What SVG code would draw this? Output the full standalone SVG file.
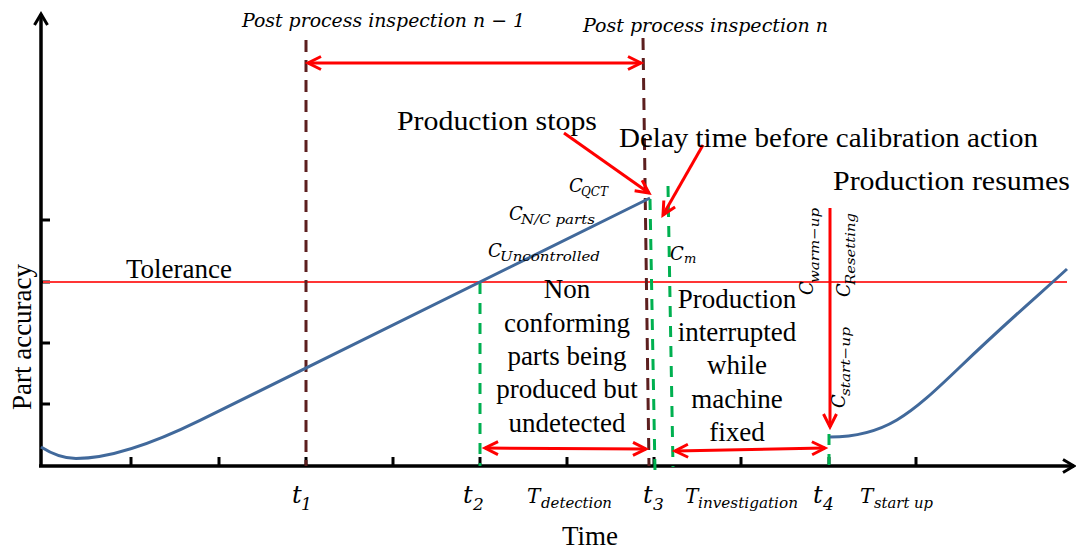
<svg xmlns="http://www.w3.org/2000/svg" width="1076" height="549" viewBox="0 0 1076 549">
<defs>
<marker id="ar" markerUnits="userSpaceOnUse" markerWidth="20" markerHeight="20" orient="auto-start-reverse" overflow="visible" refX="0" refY="0">
<path d="M-13,-6.5 L0,0 L-13,6.5" fill="none" stroke="#FF0000" stroke-width="3"/>
</marker>
<marker id="ak" markerUnits="userSpaceOnUse" markerWidth="20" markerHeight="20" orient="auto" overflow="visible" refX="0" refY="0">
<path d="M-11,-6.5 L0,0 L-11,6.5" fill="none" stroke="#000" stroke-width="3"/>
</marker>
<style>
.ax{stroke:#000;stroke-width:3.5;fill:none}
.tk{stroke:#000;stroke-width:3}
.br{stroke:#5C1F1F;stroke-width:3;stroke-dasharray:12 8;fill:none}
.gr{stroke:#00B050;stroke-width:3;stroke-dasharray:11 9;fill:none}
.rd{stroke:#FF0000;stroke-width:3;fill:none}
.cv{stroke:#41699B;stroke-width:3;fill:none}
.tol{stroke:#FF3535;stroke-width:2}
.s{font-family:"Liberation Serif","Times New Roman",serif;font-size:27px;fill:#000}
.m{font-family:"DejaVu Serif","Liberation Serif",serif;font-style:italic;fill:#000}
</style>
</defs>
<rect width="1076" height="549" fill="#fff"/>

<g id="axes">
<path class="ax" d="M41,467 L41,14" marker-end="url(#ak)"/>
<path class="ax" d="M39,466 L1074,466" marker-end="url(#ak)"/>
<g class="tk">
<line x1="41" y1="220" x2="50" y2="220"/>
<line x1="41" y1="282" x2="50" y2="282"/>
<line x1="41" y1="343" x2="50" y2="343"/>
<line x1="41" y1="404" x2="50" y2="404"/>
<line x1="131" y1="466" x2="131" y2="457"/>
<line x1="219" y1="466" x2="219" y2="457"/>
<line x1="306" y1="466" x2="306" y2="457"/>
<line x1="393" y1="466" x2="393" y2="457"/>
<line x1="480" y1="466" x2="480" y2="457"/>
<line x1="567" y1="466" x2="567" y2="457"/>
<line x1="654" y1="466" x2="654" y2="457"/>
<line x1="741" y1="466" x2="741" y2="457"/>
<line x1="829" y1="466" x2="829" y2="457"/>
<line x1="916" y1="466" x2="916" y2="457"/>
</g>
</g>

<g id="tolerance-line">
<line class="tol" x1="43" y1="282" x2="1067" y2="282"/>
</g>

<g id="guides">
<path class="br" d="M306,40 L306,466"/>
<path class="br" d="M643,38 L649,466"/>
<path class="gr" d="M480,283 L480,466"/>
<path class="gr" d="M650,199 L655,471"/>
<path class="gr" d="M668,186 L673,467"/>
<path class="gr" d="M829,434 L829,468"/>
</g>

<g id="curves">
<path class="cv" d="M41,447 C52,454 62,458.5 76,458.5 C110,458.5 150,445 200,420.4 L650,198"/>
<path class="cv" d="M830,437 C885,437 910,415 960,367 S1040,294 1067,269"/>
</g>

<g id="connectors">
<line class="rd" x1="308" y1="63" x2="641" y2="63" marker-start="url(#ar)" marker-end="url(#ar)"/>
<line class="rd" x1="485" y1="448" x2="646" y2="449" marker-start="url(#ar)" marker-end="url(#ar)"/>
<line class="rd" x1="675" y1="451" x2="825" y2="448" marker-start="url(#ar)" marker-end="url(#ar)"/>
<line class="rd" x1="830" y1="208" x2="830" y2="427" marker-end="url(#ar)"/>
<line class="rd" x1="564" y1="133" x2="649" y2="193" marker-end="url(#ar)"/>
<line class="rd" x1="703" y1="145" x2="663" y2="215" marker-end="url(#ar)"/>
</g>

<g id="label-inspection-n-1">
<text class="m" x="242" y="27" font-size="18.5" textLength="283" lengthAdjust="spacingAndGlyphs">Post process inspection n − 1</text>
</g>
<g id="label-inspection-n">
<text class="m" x="583" y="32" font-size="18.5" textLength="245" lengthAdjust="spacingAndGlyphs">Post process inspection n</text>
</g>
<g id="label-production-stops">
<text class="s" x="397" y="130" font-size="28" textLength="200" lengthAdjust="spacingAndGlyphs">Production stops</text>
</g>
<g id="label-delay">
<text class="s" x="619" y="147" font-size="28" textLength="419" lengthAdjust="spacingAndGlyphs">Delay time before calibration action</text>
</g>
<g id="label-production-resumes">
<text class="s" x="833" y="190" font-size="28" textLength="237" lengthAdjust="spacingAndGlyphs">Production resumes</text>
</g>
<g id="label-tolerance">
<text class="s" x="126" y="278">Tolerance</text>
</g>
<g id="label-part-accuracy">
<text class="s" transform="translate(31,337) rotate(-90)" text-anchor="middle">Part accuracy</text>
</g>
<g id="label-time">
<text class="s" x="562" y="545">Time</text>
</g>

<g id="label-nonconforming" class="s" text-anchor="middle">
<text x="567" y="298">Non</text>
<text x="567" y="332">conforming</text>
<text x="567" y="365">parts being</text>
<text x="567" y="398">produced but</text>
<text x="567" y="432">undetected</text>
</g>
<g id="label-interrupted" class="s" text-anchor="middle">
<text x="737" y="308">Production</text>
<text x="737" y="341">interrupted</text>
<text x="737" y="374">while</text>
<text x="737" y="408">machine</text>
<text x="737" y="441">fixed</text>
</g>

<g id="label-cqct" class="m">
<text x="569" y="192" font-size="18">C</text>
<text x="581" y="196" font-size="13" textLength="27" lengthAdjust="spacingAndGlyphs">QCT</text>
</g>
<g id="label-cnc" class="m">
<text x="509" y="220" font-size="18">C</text>
<text x="521" y="224" font-size="13" textLength="74" lengthAdjust="spacingAndGlyphs">N/C parts</text>
</g>
<g id="label-cunc" class="m">
<text x="488" y="257" font-size="18">C</text>
<text x="500" y="261" font-size="13" textLength="100" lengthAdjust="spacingAndGlyphs">Uncontrolled</text>
</g>
<g id="label-cm" class="m">
<text x="670" y="260" font-size="18">C</text>
<text x="684" y="263" font-size="13">m</text>
</g>
<g id="label-cwarm" class="m" transform="translate(813,295) rotate(-90)">
<text x="0" y="0" font-size="18">C</text>
<text x="12" y="6" font-size="13" textLength="75" lengthAdjust="spacingAndGlyphs">warm−up</text>
</g>
<g id="label-creset" class="m" transform="translate(850,297) rotate(-90)">
<text x="0" y="0" font-size="18">C</text>
<text x="12" y="5" font-size="13" textLength="72" lengthAdjust="spacingAndGlyphs">Resetting</text>
</g>
<g id="label-cstart" class="m" transform="translate(845,408) rotate(-90)">
<text x="0" y="0" font-size="18">C</text>
<text x="12" y="5" font-size="13" textLength="69" lengthAdjust="spacingAndGlyphs">start−up</text>
</g>

<g id="label-t1" class="m">
<text x="292" y="503" font-size="24">t</text>
<text x="301" y="510" font-size="17">1</text>
</g>
<g id="label-t2" class="m">
<text x="463" y="503" font-size="24">t</text>
<text x="473" y="510" font-size="17">2</text>
</g>
<g id="label-t3" class="m">
<text x="643" y="503" font-size="24">t</text>
<text x="653" y="510" font-size="17">3</text>
</g>
<g id="label-t4" class="m">
<text x="813" y="503" font-size="24">t</text>
<text x="823" y="510" font-size="17">4</text>
</g>
<g id="label-tdetect" class="m">
<text x="527" y="503" font-size="20">T</text>
<text x="541" y="508" font-size="14" textLength="71" lengthAdjust="spacingAndGlyphs">detection</text>
</g>
<g id="label-tinv" class="m">
<text x="685" y="503" font-size="20">T</text>
<text x="698" y="508" font-size="14" textLength="100" lengthAdjust="spacingAndGlyphs">investigation</text>
</g>
<g id="label-tstart" class="m">
<text x="860" y="503" font-size="20">T</text>
<text x="874" y="508" font-size="14" textLength="59" lengthAdjust="spacingAndGlyphs">start up</text>
</g>
</svg>
